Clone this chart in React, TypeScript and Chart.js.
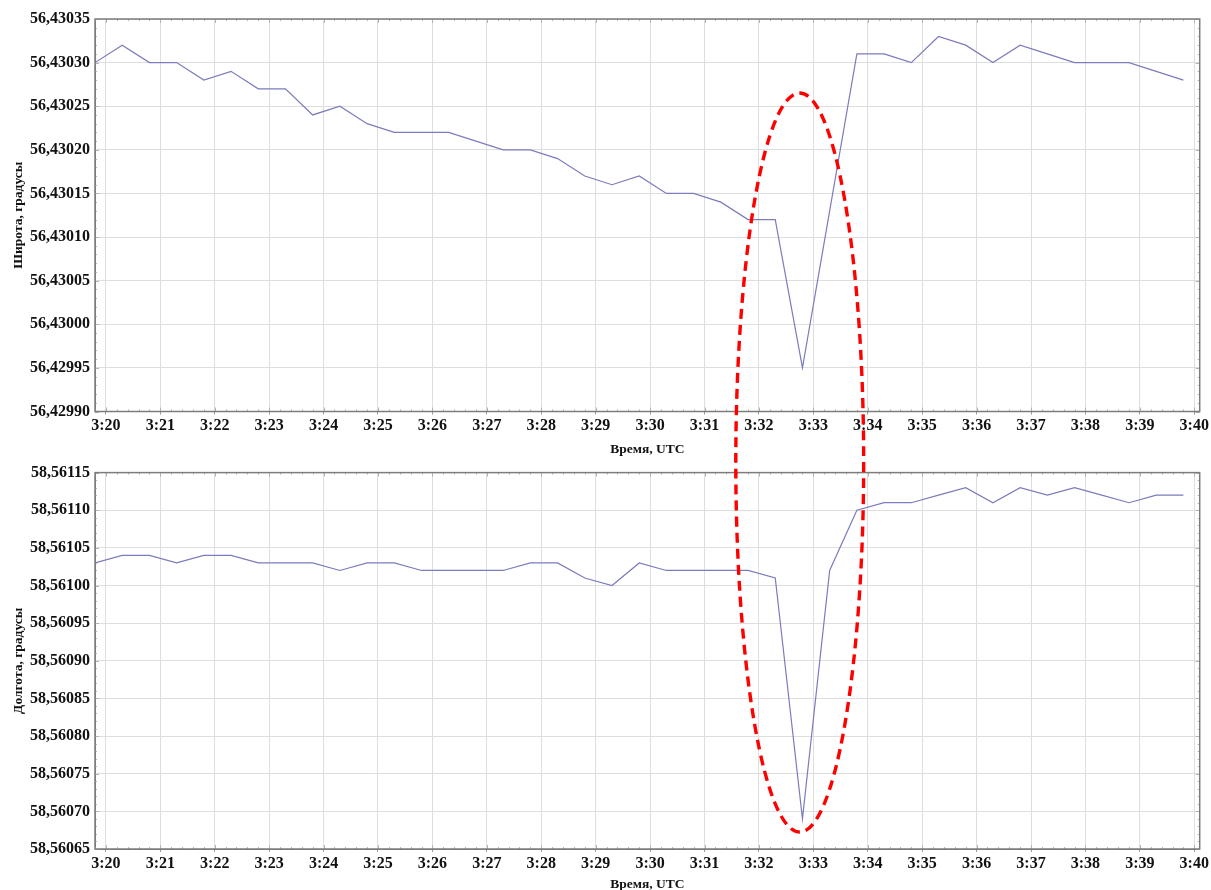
import React, { useEffect, useRef } from 'react';
import { Chart, registerables } from 'chart.js';

Chart.register(...registerables);

// ---- data ----
const TIME_LABELS = [
  '3:19:48', '3:20:18', '3:20:48', '3:21:18', '3:21:48', '3:22:18', '3:22:48', '3:23:18', '3:23:48', '3:24:18',
  '3:24:48', '3:25:18', '3:25:48', '3:26:18', '3:26:48', '3:27:18', '3:27:48', '3:28:18', '3:28:48', '3:29:18',
  '3:29:48', '3:30:18', '3:30:48', '3:31:18', '3:31:48', '3:32:18', '3:32:48', '3:33:18', '3:33:48', '3:34:18',
  '3:34:48', '3:35:18', '3:35:48', '3:36:18', '3:36:48', '3:37:18', '3:37:48', '3:38:18', '3:38:48', '3:39:18',
  '3:39:48',
];

const LATITUDE = [
  56.4303, 56.43032, 56.4303, 56.4303, 56.43028, 56.43029, 56.43027, 56.43027, 56.43024, 56.43025,
  56.43023, 56.43022, 56.43022, 56.43022, 56.43021, 56.4302, 56.4302, 56.43019, 56.43017, 56.43016,
  56.43017, 56.43015, 56.43015, 56.43014, 56.43012, 56.43012, 56.42995, 56.43013, 56.43031, 56.43031,
  56.4303, 56.43033, 56.43032, 56.4303, 56.43032, 56.43031, 56.4303, 56.4303, 56.4303, 56.43029,
  56.43028,
];

const LONGITUDE = [
  58.56103, 58.56104, 58.56104, 58.56103, 58.56104, 58.56104, 58.56103, 58.56103, 58.56103, 58.56102,
  58.56103, 58.56103, 58.56102, 58.56102, 58.56102, 58.56102, 58.56103, 58.56103, 58.56101, 58.561,
  58.56103, 58.56102, 58.56102, 58.56102, 58.56102, 58.56101, 58.56069, 58.56102, 58.5611, 58.56111,
  58.56111, 58.56112, 58.56113, 58.56111, 58.56113, 58.56112, 58.56113, 58.56112, 58.56111, 58.56112,
  58.56112,
];

const X_AXIS = { min: 19.8, max: 40.1, step: 1, title: 'Время, UTC' };
const LAT_AXIS = { min: 56.4299, max: 56.43035, step: 0.00005, title: 'Широта, градусы' };
const LON_AXIS = { min: 58.56065, max: 58.56115, step: 0.00005, title: 'Долгота, градусы' };

// highlighted anomaly (dashed ellipse), in data units
const HIGHLIGHT = { time: 32.75, halfWidth: 1.175, latTop: 56.4302652, lonBottom: 58.5606725 };

// ---- styling ----
const FONT = '"Liberation Serif", "Times New Roman", serif';
const LINE_COLOR = '#7b7bbd';
const GRID_COLOR = '#dedede';
const FRAME_COLOR = '#7c7c7c';
const W = 1211;
const TOP_H = 458;
const BOTTOM_H = 432;

function toMinutes(label: string): number {
  const [h, m, s] = label.split(':').map(Number);
  return (h - 3) * 60 + m + s / 60;
}

const framePlugin = {
  id: 'frame',
  afterDraw(chart: any) {
    const { ctx, chartArea: a, scales } = chart;
    const x = scales.x;
    const y = scales.y;
    ctx.save();
    ctx.strokeStyle = '#b4b4b4';
    ctx.lineWidth = 1;
    // minor ticks along the x edges (5 per minute)
    const nx = Math.round((x.max - x.min) * 5);
    const x0 = Math.ceil(x.min * 5);
    for (let i = x0; i <= x0 + nx; i++) {
      const v = i / 5;
      if (v > x.max) break;
      const px = Math.round(x.getPixelForValue(v)) + 0.5;
      const len = i % 5 === 0 ? 4 : 2;
      ctx.beginPath();
      ctx.moveTo(px, a.top);
      ctx.lineTo(px, a.top + len);
      ctx.moveTo(px, a.bottom);
      ctx.lineTo(px, a.bottom - len);
      ctx.stroke();
    }
    // minor ticks along the y edges (every 0.00001)
    const ny = Math.round((y.max - y.min) / 0.00001);
    for (let j = 0; j <= ny; j++) {
      const v = y.min + (j * (y.max - y.min)) / ny;
      const py = Math.round(y.getPixelForValue(v)) + 0.5;
      const len = j % 5 === 0 ? 4 : 2;
      ctx.beginPath();
      ctx.moveTo(a.left, py);
      ctx.lineTo(a.left + len, py);
      ctx.moveTo(a.right, py);
      ctx.lineTo(a.right - len, py);
      ctx.stroke();
    }
    ctx.strokeStyle = FRAME_COLOR;
    ctx.lineWidth = 1.5;
    ctx.strokeRect(a.left, a.top, a.right - a.left, a.bottom - a.top);
    ctx.restore();
  },
};

function makeConfig(values: number[], axis: any, padTop: number, xHeight: number, titlePadBottom: number): any {
  const points = TIME_LABELS.map((t, i) => ({ x: toMinutes(t), y: values[i] }));
  return {
    type: 'line',
    data: {
      datasets: [
        {
          data: points,
          borderColor: LINE_COLOR,
          borderWidth: 1.2,
          pointRadius: 0,
          tension: 0,
          fill: false,
        },
      ],
    },
    options: {
      animation: false,
      responsive: false,
      events: [],
      layout: { padding: { top: padTop, right: 11, left: 0, bottom: 0 } },
      plugins: { legend: { display: false }, tooltip: { enabled: false } },
      scales: {
        x: {
          type: 'linear',
          min: X_AXIS.min,
          max: X_AXIS.max,
          afterFit: (s: any) => {
            s.height = xHeight;
          },
          ticks: {
            stepSize: X_AXIS.step,
            includeBounds: false,
            autoSkip: false,
            maxRotation: 0,
            padding: 2,
            color: '#111',
            font: { family: FONT, size: 16, weight: 'bold' },
            callback: (v: number) => `3:${String(Math.round(v)).padStart(2, '0')}`,
          },
          grid: { color: GRID_COLOR, lineWidth: 1, drawTicks: true, tickLength: 3, tickColor: '#9a9a9a' },
          border: { display: true, color: FRAME_COLOR },
          title: {
            display: true,
            text: X_AXIS.title,
            color: '#111',
            font: { family: FONT, size: 13.5, weight: 'bold' },
            padding: { top: 0, bottom: titlePadBottom },
          },
        },
        y: {
          type: 'linear',
          min: axis.min,
          max: axis.max,
          afterFit: (s: any) => {
            s.width = 95;
          },
          ticks: {
            stepSize: axis.step,
            autoSkip: false,
            padding: 5,
            color: '#111',
            font: { family: FONT, size: 16, weight: 'bold' },
            callback: (v: number) => Number(v).toFixed(5).replace('.', ','),
          },
          grid: { color: GRID_COLOR, lineWidth: 1, drawTicks: false },
          border: { display: true, color: FRAME_COLOR },
          title: {
            display: true,
            text: axis.title,
            color: '#111',
            font: { family: FONT, size: 13.5, weight: 'bold' },
            padding: { top: 10, bottom: 0 },
          },
        },
      },
    },
    plugins: [framePlugin],
  };
}

export default function App() {
  const topRef = useRef<HTMLCanvasElement>(null);
  const bottomRef = useRef<HTMLCanvasElement>(null);
  const overlayRef = useRef<HTMLCanvasElement>(null);

  useEffect(() => {
    const top = new Chart(topRef.current as HTMLCanvasElement, makeConfig(LATITUDE, LAT_AXIS, 19, 46.5, 0.5));
    const bottom = new Chart(bottomRef.current as HTMLCanvasElement, makeConfig(LONGITUDE, LON_AXIS, 13.7, 41, -3));

    const ov = overlayRef.current as HTMLCanvasElement;
    const ctx = ov.getContext('2d') as CanvasRenderingContext2D;
    ctx.clearRect(0, 0, ov.width, ov.height);
    const xs: any = bottom.scales.x;
    const cx = xs.getPixelForValue(HIGHLIGHT.time);
    const rx = xs.getPixelForValue(HIGHLIGHT.time + HIGHLIGHT.halfWidth) - cx;
    const yTop = (top.scales.y as any).getPixelForValue(HIGHLIGHT.latTop);
    const yBot = (bottom.scales.y as any).getPixelForValue(HIGHLIGHT.lonBottom) + TOP_H;
    ctx.save();
    ctx.strokeStyle = '#ff0000';
    ctx.lineWidth = 3.4;
    ctx.setLineDash([10, 6]);
    ctx.beginPath();
    ctx.ellipse(cx, (yTop + yBot) / 2, rx, (yBot - yTop) / 2, 0, 0, Math.PI * 2);
    ctx.stroke();
    ctx.restore();

    return () => {
      top.destroy();
      bottom.destroy();
      ctx.clearRect(0, 0, ov.width, ov.height);
    };
  }, []);

  return (
    <div style={{ position: 'absolute', left: 0, top: 0, width: W, height: TOP_H + BOTTOM_H, background: '#fff' }}>
      <canvas ref={topRef} width={W} height={TOP_H} style={{ position: 'absolute', left: 0, top: 0, width: W, height: TOP_H }} />
      <canvas
        ref={bottomRef}
        width={W}
        height={BOTTOM_H}
        style={{ position: 'absolute', left: 0, top: TOP_H, width: W, height: BOTTOM_H }}
      />
      <canvas
        ref={overlayRef}
        width={W}
        height={TOP_H + BOTTOM_H}
        style={{ position: 'absolute', left: 0, top: 0, width: W, height: TOP_H + BOTTOM_H, pointerEvents: 'none' }}
      />
    </div>
  );
}
